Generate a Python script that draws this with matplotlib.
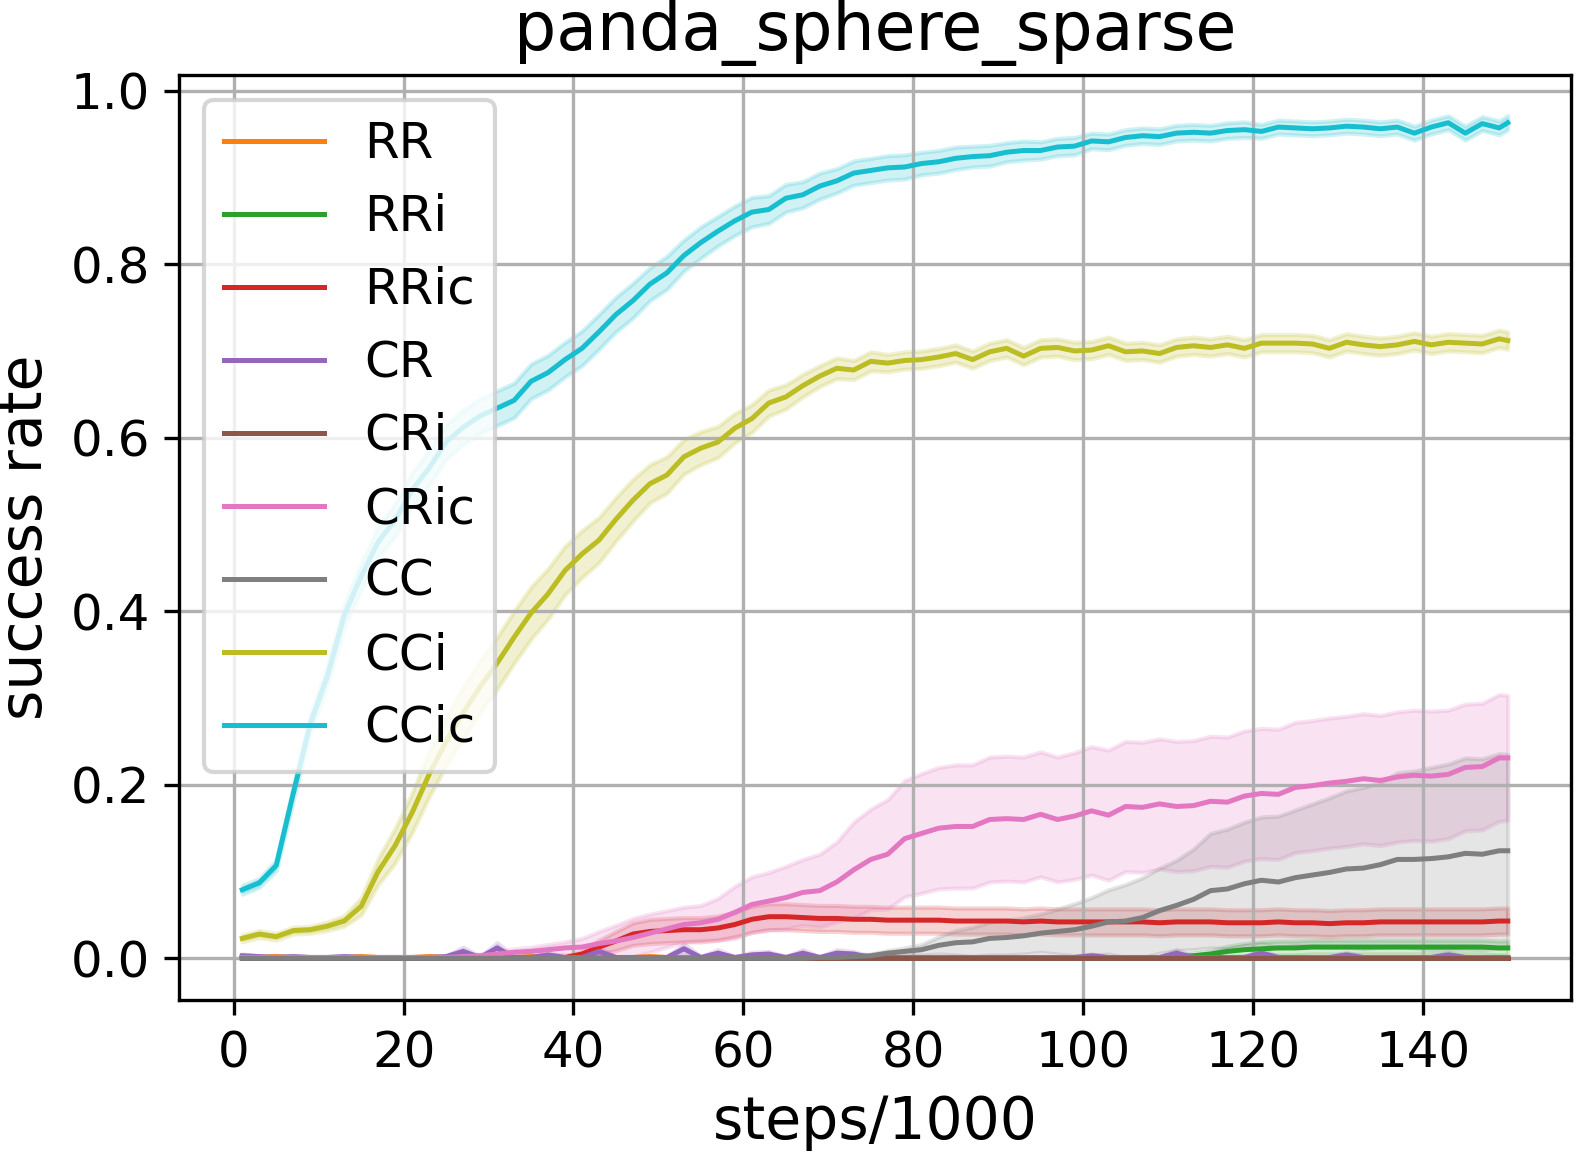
import numpy as np
import matplotlib
matplotlib.use("Agg")
import matplotlib.pyplot as plt

# x positions (steps/1000)
steps = list(range(1, 150, 2)) + [150]

labels = ["RR", "RRi", "RRic", "CR", "CRi", "CRic", "CC", "CCi", "CCic"]
colors = ["C1", "C2", "C3", "C4", "C5", "C6", "C7", "C8", "C9"]

# mean success rates
rr = [0.001, 0.001, 0.002, 0.001, 0.001, 0.001, 0.001, 0.002, 0.001, 0.001,
      0.001, 0.002, 0.001, 0.001, 0.001, 0.001, 0.001, 0.002, 0.001, 0.001,
      0.001, 0.001, 0.001, 0.001, 0.002, 0.001, 0.001, 0.001, 0.001, 0.001,
      0.001, 0.001, 0.001, 0.001, 0.001, 0.001, 0.001, 0.001, 0.001, 0.001,
      0.001, 0.001, 0.001, 0.001, 0.001, 0.001, 0.001, 0.001, 0.001, 0.001,
      0.001, 0.001, 0.001, 0.001, 0.001, 0.001, 0.001, 0.001, 0.001, 0.001,
      0.001, 0.001, 0.001, 0.001, 0.001, 0.001, 0.001, 0.001, 0.001, 0.001,
      0.001, 0.001, 0.001, 0.001, 0.001, 0.001]
rri = [0.0] * 55 + [0.002, 0.003, 0.005, 0.008, 0.010, 0.011, 0.012, 0.012,
                    0.013, 0.013, 0.013, 0.013, 0.013, 0.013, 0.013, 0.013,
                    0.013, 0.013, 0.013, 0.012, 0.012]
rric = [0.001, 0.001, 0.001, 0.001, 0.001, 0.001, 0.001, 0.001, 0.001, 0.001,
        0.001, 0.001, 0.001, 0.001, 0.001, 0.001, 0.001, 0.001, 0.001, 0.001,
        0.005, 0.013, 0.020, 0.028, 0.031, 0.032, 0.033, 0.033, 0.035, 0.039,
        0.045, 0.048, 0.048, 0.047, 0.046, 0.046, 0.045, 0.045, 0.044, 0.044,
        0.044, 0.044, 0.043, 0.043, 0.043, 0.043, 0.042, 0.043, 0.042, 0.042,
        0.042, 0.042, 0.042, 0.042, 0.041, 0.042, 0.042, 0.042, 0.041, 0.041,
        0.041, 0.042, 0.041, 0.041, 0.040, 0.041, 0.041, 0.042, 0.042, 0.042,
        0.042, 0.042, 0.042, 0.042, 0.043, 0.043]
cr = [0.003, 0.002, 0.001, 0.002, 0.001, 0.001, 0.002, 0.001, 0.001, 0.001,
      0.001, 0.001, 0.002, 0.008, 0.001, 0.012, 0.001, 0.001, 0.004, 0.001,
      0.001, 0.008, 0.001, 0.001, 0.001, 0.001, 0.011, 0.001, 0.006, 0.001,
      0.004, 0.005, 0.001, 0.006, 0.001, 0.006, 0.005, 0.001, 0.001, 0.001,
      0.001, 0.001, 0.001, 0.001, 0.001, 0.001, 0.001, 0.001, 0.001, 0.001,
      0.003, 0.001, 0.001, 0.001, 0.001, 0.006, 0.001, 0.001, 0.001, 0.001,
      0.006, 0.001, 0.001, 0.001, 0.001, 0.004, 0.001, 0.001, 0.001, 0.001,
      0.001, 0.004, 0.001, 0.001, 0.001, 0.001]
cri = [0.0] * 76
cric = [0.001, 0.001, 0.001, 0.001, 0.001, 0.001, 0.001, 0.001, 0.001, 0.001,
        0.001, 0.001, 0.001, 0.002, 0.003, 0.005, 0.007, 0.008, 0.010, 0.012,
        0.013, 0.017, 0.020, 0.024, 0.029, 0.034, 0.039, 0.041, 0.045, 0.053,
        0.062, 0.066, 0.070, 0.076, 0.078, 0.088, 0.102, 0.114, 0.120, 0.138,
        0.144, 0.150, 0.152, 0.152, 0.160, 0.161, 0.160, 0.166, 0.160, 0.164,
        0.170, 0.165, 0.175, 0.174, 0.178, 0.175, 0.176, 0.181, 0.180, 0.187,
        0.190, 0.189, 0.197, 0.199, 0.202, 0.204, 0.207, 0.205, 0.209, 0.211,
        0.210, 0.212, 0.220, 0.221, 0.231, 0.231]
cc = [0.0] * 30 + [
      0.0, 0.0, 0.0, 0.0, 0.001, 0.001, 0.002, 0.003, 0.006, 0.008,
      0.010, 0.015, 0.018, 0.019, 0.023, 0.024, 0.026, 0.029, 0.031, 0.033,
      0.037, 0.042, 0.043, 0.047, 0.055, 0.061, 0.068, 0.078, 0.080, 0.086,
      0.090, 0.088, 0.093, 0.096, 0.099, 0.103, 0.104, 0.108, 0.114, 0.114,
      0.115, 0.117, 0.121, 0.120, 0.124, 0.124]
cci = [0.023, 0.028, 0.025, 0.032, 0.033, 0.037, 0.043, 0.060, 0.100, 0.130,
       0.168, 0.212, 0.250, 0.283, 0.313, 0.340, 0.370, 0.398, 0.420, 0.447,
       0.466, 0.482, 0.506, 0.528, 0.547, 0.557, 0.578, 0.588, 0.595, 0.611,
       0.622, 0.640, 0.647, 0.660, 0.671, 0.680, 0.678, 0.688, 0.686, 0.689,
       0.690, 0.693, 0.697, 0.690, 0.699, 0.703, 0.694, 0.703, 0.704, 0.700,
       0.701, 0.706, 0.699, 0.700, 0.697, 0.704, 0.706, 0.704, 0.707, 0.703,
       0.709, 0.709, 0.709, 0.708, 0.703, 0.710, 0.707, 0.705, 0.707, 0.711,
       0.707, 0.710, 0.709, 0.708, 0.714, 0.712]
ccic = [0.079, 0.087, 0.107, 0.190, 0.270, 0.325, 0.395, 0.440, 0.480, 0.505,
        0.540, 0.565, 0.595, 0.612, 0.625, 0.634, 0.643, 0.665, 0.675, 0.690,
        0.703, 0.722, 0.742, 0.758, 0.777, 0.790, 0.810, 0.825, 0.838, 0.850,
        0.860, 0.863, 0.876, 0.880, 0.890, 0.896, 0.905, 0.908, 0.911, 0.912,
        0.916, 0.918, 0.922, 0.924, 0.925, 0.929, 0.931, 0.931, 0.935, 0.936,
        0.942, 0.941, 0.946, 0.948, 0.947, 0.951, 0.952, 0.951, 0.954, 0.955,
        0.953, 0.958, 0.957, 0.956, 0.957, 0.959, 0.958, 0.956, 0.958, 0.951,
        0.958, 0.963, 0.951, 0.962, 0.957, 0.963]

# spread (half width of the shaded band)
rr_sd = [0.001] * 76
rri_sd = [0.0] * 55 + [0.002, 0.003, 0.004, 0.006, 0.007, 0.008, 0.008, 0.008,
                       0.008, 0.008, 0.008, 0.008, 0.008, 0.008, 0.008, 0.008,
                       0.008, 0.008, 0.008, 0.008, 0.008]
rric_sd = [0.001] * 20 + [0.004, 0.008, 0.011, 0.013, 0.014, 0.014, 0.014, 0.014,
                          0.014, 0.014] + [0.015] * 46
cr_sd = [0.002, 0.001, 0.001, 0.001, 0.001, 0.001, 0.001, 0.001, 0.001, 0.001,
         0.001, 0.001, 0.001, 0.005, 0.001, 0.006, 0.001, 0.001, 0.003, 0.001,
         0.001, 0.005, 0.001, 0.001, 0.001, 0.001, 0.006, 0.001, 0.004, 0.001,
         0.003, 0.003, 0.001, 0.004, 0.001, 0.004, 0.003, 0.001, 0.001, 0.001,
         0.001, 0.001, 0.001, 0.001, 0.001, 0.001, 0.001, 0.001, 0.001, 0.001,
         0.002, 0.001, 0.001, 0.001, 0.001, 0.004, 0.001, 0.001, 0.001, 0.001,
         0.004, 0.001, 0.001, 0.001, 0.001, 0.003, 0.001, 0.001, 0.001, 0.001,
         0.001, 0.003, 0.001, 0.001, 0.001, 0.001]
cri_sd = [0.0] * 76
cric_sd = [0.001, 0.001, 0.001, 0.001, 0.001, 0.001, 0.001, 0.001, 0.001, 0.001,
           0.001, 0.001, 0.001, 0.002, 0.002, 0.003, 0.004, 0.005, 0.006, 0.007,
           0.010, 0.014, 0.018, 0.022, 0.022, 0.021, 0.020, 0.020, 0.024, 0.030,
           0.032, 0.033, 0.036, 0.038, 0.042, 0.046, 0.055, 0.058, 0.063, 0.067,
           0.069, 0.070, 0.071, 0.071, 0.072, 0.072, 0.072, 0.072, 0.072, 0.073,
           0.074, 0.075, 0.075, 0.075, 0.075, 0.075, 0.075, 0.075, 0.075, 0.075,
           0.075, 0.075, 0.075, 0.075, 0.075, 0.075, 0.075, 0.075, 0.075, 0.075,
           0.075, 0.074, 0.073, 0.073, 0.073, 0.072]
cc_sd = [0.0] * 30 + [
         0.0, 0.0, 0.0, 0.0, 0.001, 0.001, 0.002, 0.002, 0.003, 0.004,
         0.006, 0.010, 0.014, 0.017, 0.019, 0.020, 0.021, 0.022, 0.026, 0.030,
         0.033, 0.037, 0.042, 0.046, 0.049, 0.052, 0.058, 0.066, 0.069, 0.071,
         0.073, 0.076, 0.078, 0.082, 0.086, 0.090, 0.093, 0.095, 0.100, 0.102,
         0.105, 0.107, 0.110, 0.110, 0.112, 0.111]
cci_sd = [0.004, 0.004, 0.004, 0.004, 0.004, 0.005, 0.006, 0.010, 0.015, 0.020,
          0.023, 0.026, 0.028, 0.030, 0.030, 0.030, 0.030, 0.030, 0.029, 0.028,
          0.027, 0.026, 0.025, 0.024, 0.022, 0.021, 0.020, 0.019, 0.018, 0.017,
          0.016, 0.015, 0.014, 0.013, 0.012, 0.012, 0.011, 0.011, 0.010, 0.010] + [0.010] * 36
ccic_sd = [0.005, 0.005, 0.006, 0.008, 0.010, 0.012, 0.014, 0.016, 0.018, 0.019,
           0.020, 0.020, 0.020, 0.020, 0.020, 0.020, 0.020, 0.020, 0.020, 0.020,
           0.020, 0.020, 0.020, 0.020, 0.019, 0.019, 0.018, 0.018, 0.017, 0.017,
           0.017, 0.016, 0.016, 0.015, 0.015, 0.014, 0.014, 0.014, 0.014, 0.014,
           0.013, 0.013, 0.013, 0.012, 0.012, 0.011, 0.011, 0.010, 0.010, 0.010] + [0.009] * 10 + [0.008] * 16

means = [rr, rri, rric, cr, cri, cric, cc, cci, ccic]
spreads = [rr_sd, rri_sd, rric_sd, cr_sd, cri_sd, cric_sd, cc_sd, cci_sd, ccic_sd]

fig = plt.figure(figsize=(1576 / 300, 1152 / 300), dpi=300)
ax = fig.add_axes([179 / 1576, 152 / 1152, 1392 / 1576, 925 / 1152])

x = np.array(steps)
for lab, col, m, s in zip(labels, colors, means, spreads):
    m = np.array(m)
    s = np.array(s)
    ax.plot(x, m, color=col, lw=1.2, label=lab)
    ax.fill_between(x, m - s, m + s, color=col, alpha=0.2)

ax.set_xlim(-6.45, 157.45)
ax.set_ylim(-0.048, 1.018)
ax.set_xticks([0, 20, 40, 60, 80, 100, 120, 140])
ax.set_yticks([0.0, 0.2, 0.4, 0.6, 0.8, 1.0])
ax.tick_params(labelsize=12)
ax.grid(True)
ax.set_xlabel("steps/1000", fontsize=14)
ax.set_ylabel("success rate", fontsize=14)
ax.set_title("panda_sphere_sparse", fontsize=16)
ax.legend(loc="upper left", fontsize=12)

fig.savefig("out.png", dpi=300)
